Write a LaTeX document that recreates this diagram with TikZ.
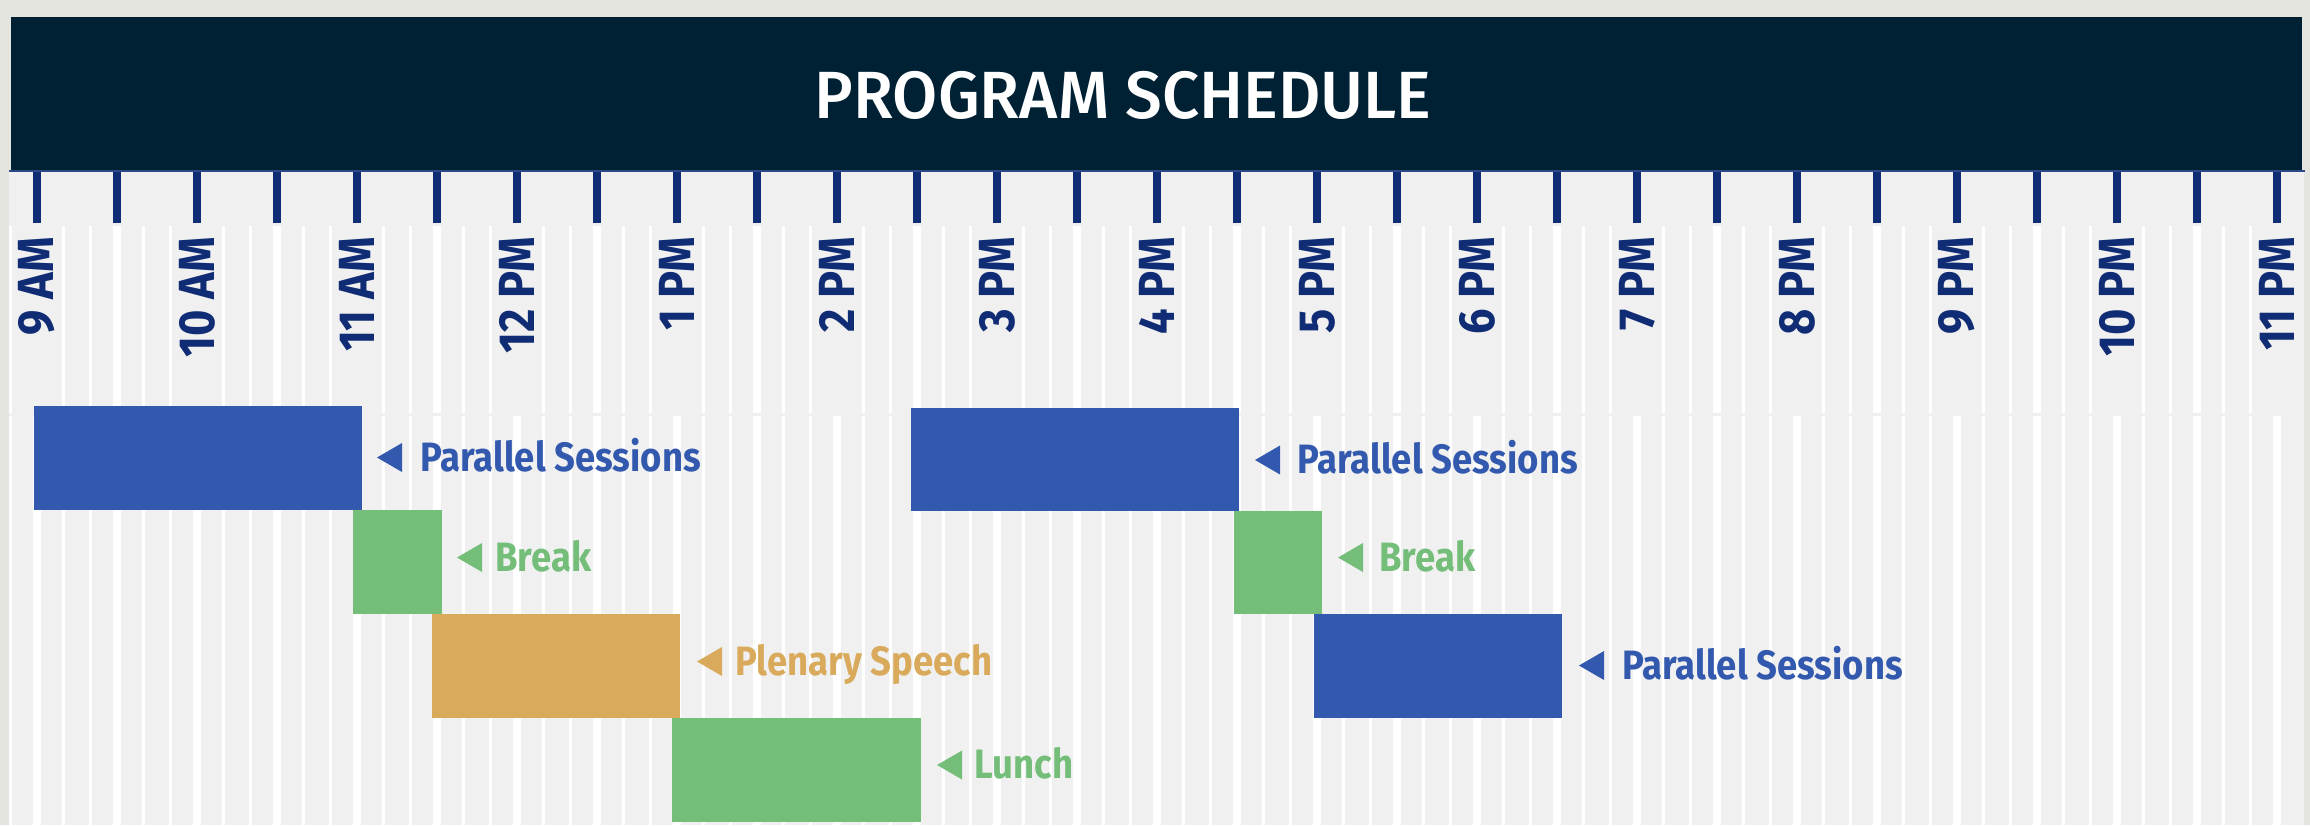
\documentclass[tikz,border=0pt]{standalone}
\usepackage{fontspec}
\setmainfont{Fira Sans}
\newfontfamily\titlefont[UprightFont={* Medium}, FakeStretch=0.98]{Fira Sans}
\newfontfamily\lblfont[FakeStretch=0.89]{Fira Sans}
\newfontfamily\timefont[FakeStretch=0.89]{Fira Sans}
\definecolor{outerbg}{HTML}{E5E5DF}
\definecolor{gridbg}{HTML}{F0F0F0}
\definecolor{hdr}{HTML}{002033}
\definecolor{hdrline}{HTML}{2A4A8A}
\definecolor{tickc}{HTML}{0F2C74}
\definecolor{pblue}{HTML}{3259AE}
\definecolor{pgreen}{HTML}{74BE7A}
\definecolor{porange}{HTML}{D9AA5B}
\tikzset{
  lbl/.style={font=\lblfont\fontsize{20.5}{21}\selectfont\bfseries, inner sep=0pt, anchor=base west},
  timelbl/.style={font=\timefont\fontsize{25.4}{26}\selectfont\bfseries, text=tickc, inner sep=0pt, rotate=90, anchor=east},
  titlelbl/.style={font=\titlefont\fontsize{33.4}{34}\selectfont, text=white, inner sep=0pt, anchor=base}
}
\newcommand\marker[3]{\fill[#1] (#2+25,#3-14.5) -- (#2,#3) -- (#2+25,#3+14.5) -- cycle;}
\begin{document}
\begin{tikzpicture}[x=0.5pt,y=-0.5pt]
\useasboundingbox (0,0) rectangle (2310,825);
\fill[outerbg] (0,0) rectangle (2310,825);
\fill[gridbg] (9,171) rectangle (2304,825);
% grid lines every 10 minutes
\foreach \m in {-1,0,...,84}{
  \pgfmathtruncatemacro\isHalf{mod(\m+6,3)==0 ? 1 : 0}
  \pgfmathtruncatemacro\isHour{mod(\m+6,6)==0 ? 1 : 0}
  \pgfmathsetmacro\xx{37+80*\m/3}
  \ifnum\isHalf=1 \def\lw{8}\else\def\lw{2.5}\fi
  \fill[white] (\xx-\lw/2,416) rectangle (\xx+\lw/2,825);
  \ifnum\isHour=0 \fill[white] (\xx-\lw/2,226) rectangle (\xx+\lw/2,413);\fi
}
% header
\fill[hdr] (11,17) rectangle (2302,171);
\draw[hdrline, line width=1.2] (9,171) -- (2305,171);
\node[titlelbl] (title) at (1123,118) {PROGRAM SCHEDULE};
% ticks
\foreach \h in {0,...,28}{
  \fill[tickc] (37+80*\h-4,172) rectangle (37+80*\h+4,223);
}
% time labels
\foreach \h/\t in {0/9 AM,1/10 AM,2/11 AM,3/12 PM,4/1 PM,5/2 PM,6/3 PM,7/4 PM,8/5 PM,9/6 PM,10/7 PM,11/8 PM,12/9 PM,13/10 PM,14/11 PM}{
  \node[timelbl] (time\h) at (37+160*\h,237) {\t};
}
% blocks
\fill[pblue] (34,406) rectangle (362,510);
\fill[pgreen] (353,510) rectangle (442,614);
\fill[porange] (432,614) rectangle (680,718);
\fill[pgreen] (672,718) rectangle (921,822);
\fill[pblue] (911,408) rectangle (1239,511);
\fill[pgreen] (1234,511) rectangle (1322,614);
\fill[pblue] (1314,614) rectangle (1562,718);
% markers and labels
\marker{pblue}{377}{457.5}
\node[lbl, text=pblue] (ps1) at (420,471) {Parallel Sessions};
\marker{pgreen}{457}{557.5}
\node[lbl, text=pgreen] (br1) at (495,571) {Break};
\marker{porange}{697}{661.5}
\node[lbl, text=porange] (ple) at (735,675) {Plenary Speech};
\marker{pgreen}{937}{765}
\node[lbl, text=pgreen] (lun) at (974,778.5) {Lunch};
\marker{pblue}{1255}{460}
\node[lbl, text=pblue] (ps2) at (1297,473.5) {Parallel Sessions};
\marker{pgreen}{1338}{557.5}
\node[lbl, text=pgreen] (br2) at (1379,571) {Break};
\marker{pblue}{1579}{665.5}
\node[lbl, text=pblue] (ps3) at (1622,679) {Parallel Sessions};
\end{tikzpicture}
\end{document}
